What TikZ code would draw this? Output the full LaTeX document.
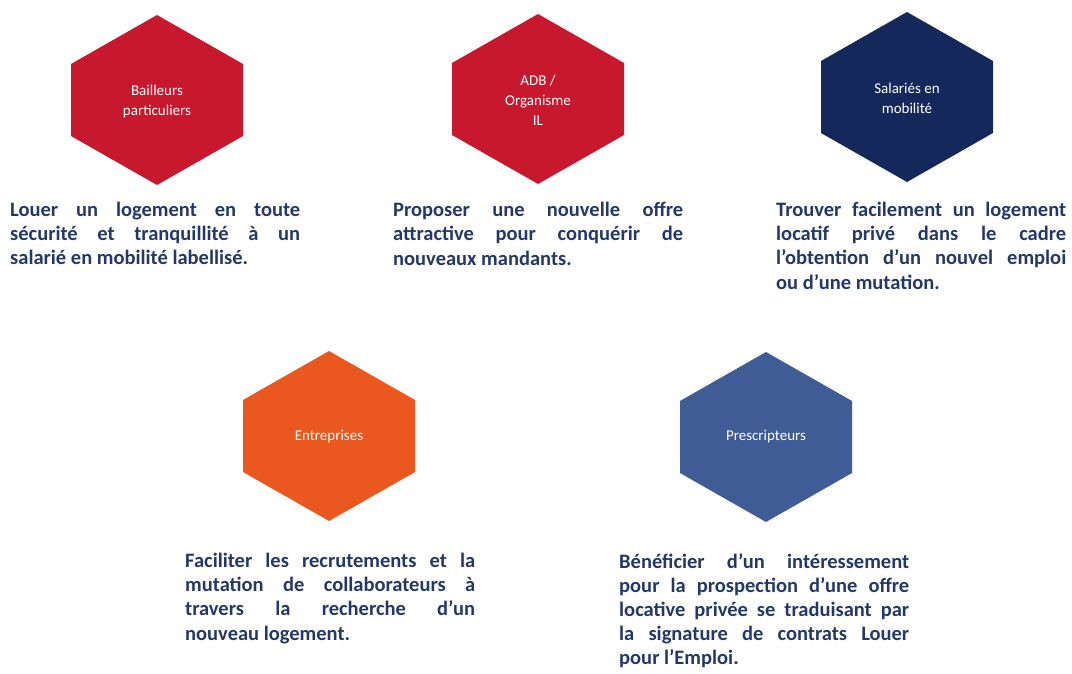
\documentclass[tikz,border=0pt]{standalone}
\usepackage{fontspec}
\setmainfont{Carlito}
\definecolor{hred}{RGB}{200,24,46}
\definecolor{hnavy}{RGB}{20,40,92}
\definecolor{horange}{RGB}{234,88,32}
\definecolor{hsteel}{RGB}{64,92,150}
\definecolor{txt}{RGB}{36,56,104}
\hfuzz=20pt
\tikzset{
  hexpath/.style={insert path={++(0,-85) -- ++(86,49) -- ++(0,72) -- ++(-86,49) -- ++(-86,-49) -- ++(0,-72) -- cycle}},
  hlabel/.style={text=white, align=center, font=\fontsize{15}{20}\selectfont, inner sep=0pt},
  desc/.style={text=txt, text width=290pt, align=justify, anchor=north west, inner sep=0pt,
    font=\bfseries\fontsize{20.5}{24.2}\selectfont}
}
\begin{document}
\begin{tikzpicture}[x=1pt,y=-1pt]
\useasboundingbox[fill=white] (0,0) rectangle (1072,674);
% hexagons
\fill[hred] (157,100) [hexpath];
\fill[hred] (538,99) [hexpath];
\fill[hnavy] (907,97) [hexpath];
\fill[horange] (329,436) [hexpath];
\fill[hsteel] (766,437) [hexpath];
% labels
\node[hlabel] (bail) at (157,102) {Bailleurs\\particuliers};
\node[hlabel] (adb) at (538,100) {ADB /\\Organisme\\IL};
\node[hlabel] (sal) at (907,98) {Salariés en\\mobilité};
\node[hlabel] (ent) at (329,437) {Entreprises};
\node[hlabel] (pres) at (766,437) {Prescripteurs};
% descriptions
\node[desc] (d1) at (10,202) {Louer un logement en toute\linebreak sécurité et tranquillité à un\linebreak salarié en mobilité labellisé.};
\node[desc] (d2) at (393,202) {Proposer une nouvelle offre\linebreak attractive pour conquérir de\linebreak nouveaux mandants.};
\node[desc] (d3) at (776,202) {Trouver facilement un logement\linebreak locatif privé dans le cadre\linebreak l’obtention d’un nouvel emploi\linebreak ou d’une mutation.};
\node[desc] (d4) at (185,553) {Faciliter les recrutements et la\linebreak mutation de collaborateurs à\linebreak travers la recherche d’un\linebreak nouveau logement.};
\node[desc] (d5) at (619,553) {Bénéficier d’un intéressement\linebreak pour la prospection d’une offre\linebreak locative privée se traduisant par\linebreak la signature de contrats Louer\linebreak pour l’Emploi.};
\end{tikzpicture}
\end{document}
